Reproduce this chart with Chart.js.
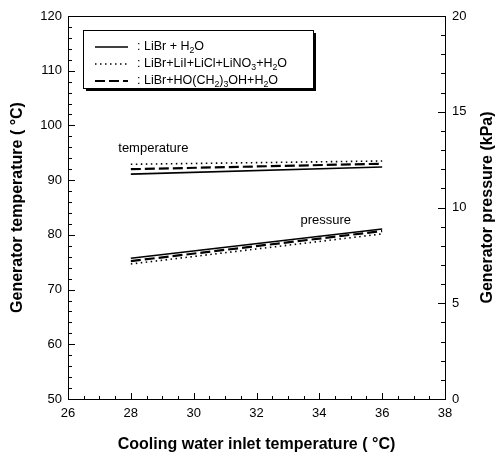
<!DOCTYPE html>
<html lang="en">
<head>
<meta charset="UTF-8">
<title>Generator temperature and pressure</title>
<script src="https://cdn.jsdelivr.net/npm/chart.js"></script>
<style>
  html, body { margin: 0; padding: 0; background: #fff; }
  #wrap { width: 499px; height: 456px; }
</style>
</head>
<body>
<div id="wrap"><canvas id="chart"></canvas></div>
<script>
// cooling water inlet temperature (C)
const coolingTemp = [28, 36];
// generator temperature (C)
const tempLiBr = [91.1, 92.4];
const tempLiMix = [92.9, 93.5];
const tempPropanediol = [92.0, 93.0];
// generator pressure (kPa)
const presLiBr = [7.35, 8.88];
const presLiMix = [7.05, 8.62];
const presPropanediol = [7.2, 8.77];

const legendLabels = [': LiBr + H_2O', ': LiBr+LiI+LiCl+LiNO_3+H_2O', ': LiBr+HO(CH_2)_3OH+H_2O'];

const FONT = '"Liberation Sans", Arial, sans-serif';
const solid = [];
const dotted = [1.5, 3.5];
const dashed = [10, 4];

function pts(ys) {
  return coolingTemp.map((x, i) => ({ x: x, y: ys[i] }));
}

function line(label, ys, axis, dash, width) {
  return {
    label: label, data: pts(ys), yAxisID: axis,
    borderColor: '#000', borderWidth: width, borderDash: dash,
    pointRadius: 0, fill: false, tension: 0
  };
}

// text with "_d" subscripts
function drawRich(ctx, str, x, y, size) {
  const parts = str.split(/(_\d)/);
  parts.forEach(p => {
    if (!p) return;
    if (p[0] === '_') {
      ctx.font = (size * 0.7) + 'px ' + FONT;
      ctx.fillText(p[1], x, y + size * 0.3);
      x += ctx.measureText(p[1]).width;
    } else {
      ctx.font = size + 'px ' + FONT;
      ctx.fillText(p, x, y);
      x += ctx.measureText(p).width;
    }
  });
}

const decorations = {
  id: 'decorations',
  afterDraw(chart) {
    const ctx = chart.ctx;
    const a = chart.chartArea;
    const sx = chart.scales.x, sy = chart.scales.y, sp = chart.scales.y1;
    ctx.save();
    ctx.strokeStyle = '#000';
    ctx.fillStyle = '#000';
    ctx.lineWidth = 1;
    ctx.setLineDash([]);
    ctx.strokeRect(a.left + 0.5, a.top + 0.5, a.right - a.left, a.bottom - a.top);

    ctx.beginPath();
    for (let v = 50; v <= 120; v += 2) {
      const p = Math.round(sy.getPixelForValue(v)) + 0.5;
      const len = v % 10 === 0 ? 7 : 4;
      ctx.moveTo(a.left, p); ctx.lineTo(a.left + len, p);
    }
    for (let v = 0; v <= 20; v += 1) {
      const p = Math.round(sp.getPixelForValue(v)) + 0.5;
      const len = v % 5 === 0 ? 7 : 4;
      ctx.moveTo(a.right, p); ctx.lineTo(a.right - len, p);
    }
    for (let v = 26; v <= 38; v += 0.5) {
      const p = Math.round(sx.getPixelForValue(v)) + 0.5;
      const len = v % 2 === 0 ? 6 : 3;
      ctx.moveTo(p, a.bottom); ctx.lineTo(p, a.bottom - len);
    }
    ctx.stroke();

    // right axis title, reading bottom to top
    ctx.save();
    ctx.translate(488, (a.top + a.bottom) / 2);
    ctx.rotate(-Math.PI / 2);
    ctx.font = 'bold 16px ' + FONT;
    ctx.textAlign = 'center';
    ctx.textBaseline = 'middle';
    ctx.fillText('Generator pressure (kPa)', 0, 0);
    ctx.restore();

    // curve labels
    ctx.font = '13px ' + FONT;
    ctx.textBaseline = 'alphabetic';
    ctx.fillText('temperature', sx.getPixelForValue(27.6), sy.getPixelForValue(95.1));
    ctx.fillText('pressure', sx.getPixelForValue(33.4), sp.getPixelForValue(9.14));

    // legend box with drop shadow
    const bx = a.left + 15, by = a.top + 14, bw = 230, bh = 58;
    ctx.fillRect(bx + 3, by + 3, bw, bh);
    ctx.fillStyle = '#fff';
    ctx.fillRect(bx, by, bw, bh);
    ctx.strokeRect(bx + 0.5, by + 0.5, bw, bh);
    ctx.fillStyle = '#000';
    const dashes = [solid, dotted, dashed];
    const widths = [1.3, 1.3, 2];
    legendLabels.forEach((txt, i) => {
      const ly = by + 17 + i * 17;
      ctx.beginPath();
      ctx.lineWidth = widths[i];
      ctx.setLineDash(dashes[i]);
      ctx.moveTo(bx + 12, ly);
      ctx.lineTo(bx + 45, ly);
      ctx.stroke();
      ctx.setLineDash([]);
      ctx.textBaseline = 'middle';
      drawRich(ctx, txt, bx + 54, ly, 12.5);
    });
    ctx.restore();
  }
};

new Chart(document.getElementById('chart'), {
  type: 'line',
  data: {
    datasets: [
      line('LiBr + H2O temperature', tempLiBr, 'y', solid, 1.6),
      line('LiBr+LiI+LiCl+LiNO3+H2O temperature', tempLiMix, 'y', dotted, 1.6),
      line('LiBr+HO(CH2)3OH+H2O temperature', tempPropanediol, 'y', dashed, 2.2),
      line('LiBr + H2O pressure', presLiBr, 'y1', solid, 1.6),
      line('LiBr+LiI+LiCl+LiNO3+H2O pressure', presLiMix, 'y1', dotted, 1.6),
      line('LiBr+HO(CH2)3OH+H2O pressure', presPropanediol, 'y1', dashed, 2.2)
    ]
  },
  options: {
    responsive: true,
    maintainAspectRatio: false,
    animation: false,
    layout: { padding: { top: 16, left: 0, right: 0, bottom: 0 } },
    plugins: { legend: { display: false }, tooltip: { enabled: false } },
    scales: {
      x: {
        type: 'linear', min: 26, max: 38,
        grid: { display: false, drawTicks: false },
        border: { display: false },
        ticks: { stepSize: 2, color: '#000', padding: 7, font: { family: FONT, size: 13 } },
        title: { display: true, text: 'Cooling water inlet temperature ( °C)', color: '#000',
                 font: { family: FONT, size: 16, weight: 'bold' }, padding: { top: 0, bottom: 2 } },
        afterFit: s => { s.height = 57; }
      },
      y: {
        type: 'linear', position: 'left', min: 50, max: 120,
        grid: { display: false, drawTicks: false },
        border: { display: false },
        ticks: { stepSize: 10, color: '#000', padding: 6, font: { family: FONT, size: 13 } },
        title: { display: true, text: 'Generator temperature ( °C)', color: '#000',
                 font: { family: FONT, size: 16, weight: 'bold' }, padding: { top: 8, bottom: 0 } },
        afterFit: s => { s.width = 68; }
      },
      y1: {
        type: 'linear', position: 'right', min: 0, max: 20,
        grid: { display: false, drawTicks: false },
        border: { display: false },
        ticks: { stepSize: 5, color: '#000', padding: 7, font: { family: FONT, size: 13 } },
        title: { display: false },
        afterFit: s => { s.width = 54; }
      }
    }
  },
  plugins: [decorations]
});
</script>
</body>
</html>
